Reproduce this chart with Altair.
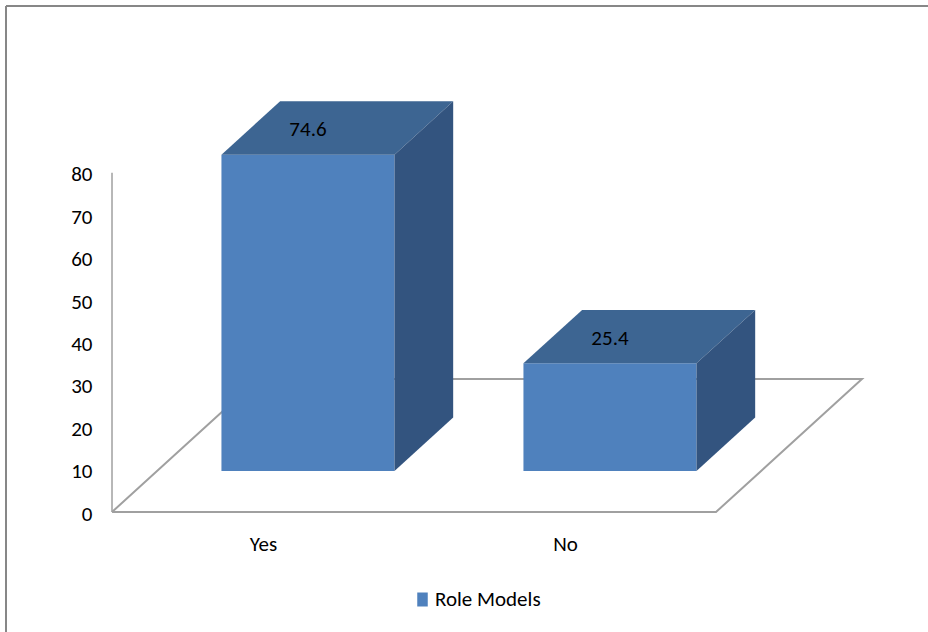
import json

import altair as alt
import pandas as pd

# ---- data -------------------------------------------------------------
categories = ["Yes", "No"]
values = [74.6, 25.4]
series_name = "Role Models"
y_ticks = [0, 10, 20, 30, 40, 50, 60, 70, 80]

# ---- layout / style ---------------------------------------------------
W, H = 928, 632
FONT = "Carlito, Liberation Sans"
FONT_SIZE = 21
FRONT_COLOR = "#4F81BD"
TOP_COLOR = "#3D6592"
SIDE_COLOR = "#33547F"
LINE_COLOR = "#A0A0A0"

# shared scales: category units on x, value units on y
x_scale = alt.Scale(domain=[-0.3709, 2.7020], nice=False, zero=False)
y_scale = alt.Scale(domain=[-28.30, 120.76], nice=False, zero=False)

# oblique "3-D" projection, expressed in data units
BAR_W = 0.573                      # bar width as a fraction of a category slot
DEPTH_X, DEPTH_Y = 0.4834, 31.37   # floor depth
FRONT, BACK = 0.308, 0.71          # bar front / back as fractions of floor depth

n = len(categories)
fx, fy = FRONT * DEPTH_X, FRONT * DEPTH_Y
bx, by = BACK * DEPTH_X, BACK * DEPTH_Y

front_rows, top_rows, side_rows, label_rows = [], [], [], []
for i, (cat, val) in enumerate(zip(categories, values)):
    left = i + (1 - BAR_W) / 2
    right = left + BAR_W
    front_rows.append(dict(cat=cat, series=series_name,
                           x=left + fx, x2=right + fx, y=fy, y2=val + fy))
    # top face: parallelogram swept along x (upper and lower edge per x)
    top_rows += [
        dict(cat=cat, x=left + fx, yu=val + fy, yl=val + fy),
        dict(cat=cat, x=left + bx, yu=val + by, yl=val + fy),
        dict(cat=cat, x=right + fx, yu=val + by, yl=val + fy),
        dict(cat=cat, x=right + bx, yu=val + by, yl=val + by),
    ]
    # right side face
    side_rows += [dict(cat=cat, x=right + fx, ylo=fy, yhi=val + fy),
                  dict(cat=cat, x=right + bx, ylo=by, yhi=val + by)]
    label_rows.append(dict(cat=cat, x=i + 0.5 + fx,
                           y=val + (FRONT + BACK) / 2 * DEPTH_Y,
                           text=f"{val:.1f}"))

front_df = pd.DataFrame(front_rows)
top_df = pd.DataFrame(top_rows)
side_df = pd.DataFrame(side_rows)
label_df = pd.DataFrame(label_rows)
# floor outline, walked as a closed loop
floor_df = pd.DataFrame([
    dict(k=0, x=0.0, y=0.0),
    dict(k=1, x=float(n), y=0.0),
    dict(k=2, x=n + DEPTH_X, y=DEPTH_Y),
    dict(k=3, x=DEPTH_X, y=DEPTH_Y),
    dict(k=4, x=0.0, y=0.0),
])
yaxis_df = pd.DataFrame([dict(x=0.0, y0=min(y_ticks), y1=max(y_ticks))])

# ---- axes (identical in every layer so they merge cleanly) -------------
label_expr = f"{json.dumps(categories)}[floor(datum.value)]"
x_axis = alt.Axis(values=[i + 0.5 for i in range(n)], labelExpr=label_expr,
                  title=None, orient="bottom", offset=-120, domain=False,
                  ticks=False, tickSize=0, grid=False, labelPadding=38,
                  labelBaseline="alphabetic", labelFontSize=FONT_SIZE,
                  labelFont=FONT, labelColor="#000000")
y_axis = alt.Axis(values=y_ticks, format="d", title=None, orient="left",
                  offset=-112, domain=False, ticks=False, tickSize=0, grid=False,
                  labelPadding=20, labelOffset=2, labelFontSize=FONT_SIZE,
                  labelFont=FONT, labelColor="#000000")


def X(field, **kw):
    return alt.X(field, scale=x_scale, axis=x_axis, **kw)


def Y(field, **kw):
    return alt.Y(field, scale=y_scale, axis=y_axis, **kw)


# ---- layers -----------------------------------------------------------
floor = alt.Chart(floor_df).mark_line(color=LINE_COLOR, strokeWidth=2).encode(
    x=X("x:Q"), y=Y("y:Q"), order="k:Q"
)

y_line = alt.Chart(yaxis_df).mark_rule(color=LINE_COLOR, strokeWidth=1.5).encode(
    x=X("x:Q"), y=Y("y0:Q"), y2="y1:Q"
)

front = alt.Chart(front_df).mark_rect(strokeWidth=0).encode(
    x=X("x:Q"),
    x2="x2:Q",
    y=Y("y:Q"),
    y2="y2:Q",
    color=alt.Color("series:N",
                    scale=alt.Scale(domain=[series_name], range=[FRONT_COLOR]),
                    legend=alt.Legend(title=None, orient="none", legendX=412,
                                      legendY=589, padding=0,
                                      symbolType="M-0.75,-1H0.75V1H-0.75Z",
                                      symbolSize=196, symbolStrokeWidth=0,
                                      labelFontSize=FONT_SIZE, labelFont=FONT,
                                      labelColor="#000000", labelOffset=2)),
)

top = alt.Chart(top_df).mark_area(orient="vertical", color=TOP_COLOR).encode(
    x=X("x:Q"), y=Y("yu:Q", stack=None), y2="yl:Q", detail="cat:N"
)

side = alt.Chart(side_df).mark_area(orient="vertical", color=SIDE_COLOR).encode(
    x=X("x:Q"), y=Y("yhi:Q", stack=None), y2="ylo:Q", detail="cat:N"
)

labels = alt.Chart(label_df).mark_text(
    font=FONT, fontSize=FONT_SIZE, color="#000000", baseline="middle", dy=2
).encode(x=X("x:Q"), y=Y("y:Q"), text="text:N")

edge_df = pd.DataFrame({"edge": ["frame"]})
frame_top = alt.Chart(edge_df).mark_rule(color="#878787", strokeWidth=2).encode(
    x=alt.value(6), x2=alt.value(W), y=alt.value(6)
)
frame_left = alt.Chart(edge_df).mark_rule(color="#878787", strokeWidth=2).encode(
    x=alt.value(6), y=alt.value(6), y2=alt.value(H)
)

chart = alt.layer(
    floor, y_line, front, top, side, labels, frame_top, frame_left
).properties(
    width=W, height=H, padding=0,
    autosize=alt.AutoSizeParams(type="none"),
    background="#FFFFFF",
).configure_view(stroke=None)

chart.save("out.html", embed_options={"renderer": "svg", "actions": False})
